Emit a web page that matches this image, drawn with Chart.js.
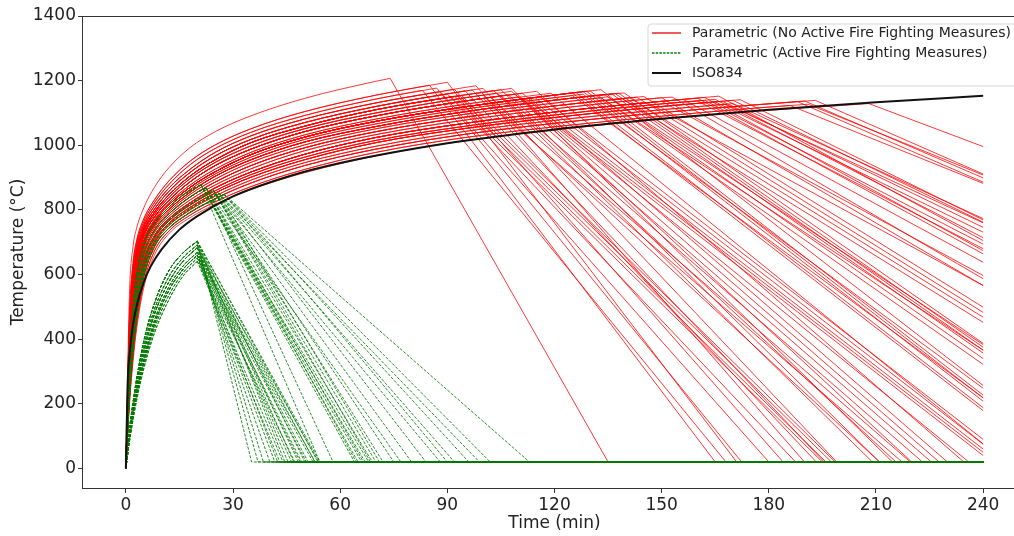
<!DOCTYPE html>
<html>
<head>
<meta charset="utf-8">
<script src="https://cdn.jsdelivr.net/npm/chart.js@4.4.1/dist/chart.umd.min.js"></script>
<style>
html, body { margin: 0; padding: 0; background: #fff; overflow: hidden; width: 1014px; height: 536px; }
#wrap { width: 1030px; height: 536px; }
</style>
</head>
<body>
<div id="wrap"><canvas id="mycanvas" width="1030" height="536"></canvas></div>
<script>
var FONT = 'DejaVu Sans';

var xTicks = [0, 30, 60, 90, 120, 150, 180, 210, 240];
var yTicks = [0, 200, 400, 600, 800, 1000, 1200, 1400];
var floorTemp = 20;

// ISO834 standard fire curve
var isoTime = [0, 0.5, 1, 2, 3, 5, 7, 10, 15, 20, 30, 45, 60, 90, 120, 150, 180, 210, 240];
var isoTemp = [0, 261, 349, 445, 502, 576, 626, 678, 739, 781, 842, 902, 945, 1006, 1049, 1082, 1110, 1133, 1153];

// heating branches of the parametric curves (no active measures), read at heatTime
var heatTime = [0, 1, 2, 3, 5, 8, 12, 18, 25, 35, 50, 70, 95, 125, 150, 175, 200];
var redHeat = [
  [0, 538, 686, 743, 806, 870, 930, 993, 1042, 1091, 1145, 1198],
  [0, 469, 635, 704, 772, 831, 889, 951, 1001, 1051, 1104, 1155],
  [0, 430, 603, 683, 754, 812, 867, 926, 978, 1029, 1081, 1131, 1179],
  [0, 393, 568, 655, 735, 793, 846, 905, 955, 1008, 1059, 1110, 1156],
  [0, 363, 538, 631, 719, 778, 829, 887, 937, 988, 1042, 1091, 1137],
  [0, 336, 507, 608, 701, 764, 815, 870, 918, 971, 1025, 1074, 1119, 1162],
  [0, 313, 483, 583, 687, 752, 801, 855, 904, 955, 1010, 1058, 1104, 1146],
  [0, 288, 454, 557, 665, 737, 787, 840, 886, 937, 992, 1042, 1087, 1128],
  [0, 262, 421, 523, 642, 720, 772, 822, 868, 917, 972, 1024, 1068, 1109, 1136],
  [0, 242, 393, 495, 619, 703, 758, 808, 852, 901, 955, 1008, 1052, 1092, 1120],
  [0, 220, 363, 465, 592, 686, 743, 792, 835, 883, 937, 988, 1034, 1074, 1101, 1124],
  [0, 197, 330, 430, 559, 660, 726, 776, 817, 863, 915, 967, 1014, 1053, 1081, 1104, 1123],
  [0, 450, 619, 694, 763, 822, 878, 940, 990, 1040, 1092, 1143],
  [0, 411, 585, 669, 745, 802, 857, 916, 967, 1018, 1070, 1120, 1168],
  [0, 379, 554, 645, 728, 786, 838, 897, 947, 998, 1051, 1100, 1147],
  [0, 346, 520, 617, 708, 770, 821, 877, 926, 978, 1032, 1081, 1127],
  [0, 325, 495, 596, 694, 758, 808, 863, 911, 963, 1018, 1066, 1112, 1154],
  [0, 302, 469, 570, 677, 745, 794, 848, 895, 947, 1001, 1051, 1096, 1137],
  [0, 274, 438, 541, 654, 730, 780, 831, 877, 927, 983, 1033, 1078, 1119, 1147],
  [0, 250, 406, 508, 630, 711, 765, 815, 859, 909, 963, 1015, 1059, 1100, 1128],
  [0, 230, 378, 481, 606, 694, 751, 800, 843, 892, 946, 997, 1043, 1083, 1110, 1133],
  [0, 207, 346, 446, 574, 673, 734, 784, 825, 872, 925, 978, 1024, 1063, 1090, 1114]
];

// each red curve: heating branch, peak, end of the cooling branch
var redFam = [0, 1, 1, 2, 2, 2, 3, 3, 3, 3, 3, 3, 3, 4, 4, 4, 4, 4, 4, 4,
  5, 5, 5, 5, 5, 5, 5, 5, 5, 5, 5, 6, 6, 6, 6, 6, 6, 7, 7, 7, 7,
  8, 8, 8, 8, 8, 8, 9, 9, 9, 9, 10, 10, 10, 11,
  12, 12, 13, 13, 13, 13, 14, 14, 14, 15, 15, 16, 16, 17, 17, 18, 18, 19, 19, 19, 20, 20, 21, 21];
var redPeakT = [74, 85, 90, 88, 92, 98, 91, 92, 93, 94, 103, 105, 108, 100, 102, 105, 107, 109, 111, 115,
  111, 112, 113, 114.5, 116, 125, 126, 128, 129, 130, 133, 132, 134, 136, 137, 138, 139.5, 139, 141, 143, 145,
  146, 150, 156, 160, 162, 166, 165, 167, 170, 172, 188, 190, 193, 208,
  83, 87, 90, 95, 97, 100, 100, 104, 108, 110, 119, 125, 128, 133, 135, 150, 153, 160, 162, 165, 168, 170, 186, 191];
var redPeakV = [1207, 1186, 1195, 1166, 1173, 1184, 1150, 1152, 1153, 1154, 1169, 1172, 1176, 1145, 1148, 1153, 1156, 1158, 1161, 1167,
  1143, 1144, 1146, 1148, 1150, 1162, 1163, 1166, 1167, 1168, 1172, 1155, 1157, 1159, 1160, 1161, 1162, 1144, 1147, 1149, 1151,
  1132, 1136, 1142, 1146, 1148, 1152, 1134, 1136, 1139, 1141, 1135, 1137, 1139, 1129,
  1170, 1177, 1159, 1168, 1171, 1176, 1155, 1161, 1167, 1150, 1161, 1154, 1158, 1147, 1150, 1147, 1149, 1137, 1139, 1142, 1127, 1129, 1123, 1127];
var redEndT = [135, 165, 171, 180, 184, 190, 195, 196, 197.5, 198.6, 209, 211, 214.6, 217.3, 219.6, 223, 225.5, 227.7, 230, 234.6,
  240, 240, 240, 240, 240, 240, 240, 240, 240, 240, 240, 240, 240, 240, 240, 240, 240, 240, 240, 240, 240,
  240, 240, 240, 240, 240, 240, 240, 240, 240, 240, 240, 240, 240, 240,
  168, 172.4, 187.5, 193.3, 195.5, 199, 211, 215.6, 220, 236, 240, 240, 240, 240, 240, 240, 240, 240, 240, 240, 240, 240, 240, 240];
var redEndV = [20, 20, 20, 20, 20, 20, 20, 20, 20, 20, 20, 20, 20, 20, 20, 20, 20, 20, 20, 20,
  40, 50, 60, 75, 90, 179, 188, 208, 218, 227, 257, 322, 340, 357, 366, 375, 387, 452, 468, 483, 499,
  566, 597, 638, 664, 674, 705, 731, 746, 762, 769, 886, 899, 911, 996,
  20, 20, 20, 20, 20, 20, 20, 20, 20, 20, 76, 219, 248, 366, 383, 566, 587, 680, 694, 714, 760, 773, 882, 908];

// heating branches with active fire fighting measures
var greenTime = [0, 1, 2, 3, 5, 8, 12, 16, 20, 24];
var greenHeat = [
  [0, 120, 203, 276, 393, 511, 611, 667, 703],
  [0, 100, 181, 248, 358, 477, 576, 641, 683],
  [0, 90, 165, 228, 330, 446, 550, 616, 660],
  [0, 82, 150, 210, 308, 419, 521, 595, 641],
  [0, 325, 495, 596, 694, 758, 808, 846, 872],
  [0, 255, 411, 513, 635, 715, 767, 802, 831, 857],
  [0, 220, 363, 465, 592, 686, 743, 778, 806, 828],
  [0, 107, 190, 260, 374, 492, 592, 652, 692],
  [0, 95, 172, 236, 341, 458, 561, 626, 669],
  [0, 86, 158, 220, 319, 433, 535, 605, 651],
  [0, 288, 454, 557, 665, 737, 787, 824, 854],
  [0, 235, 383, 486, 611, 698, 754, 788, 817, 841]
];
var greenFam = [0, 0, 0, 0, 0, 1, 1, 1, 1, 1, 2, 2, 2, 2, 2, 3, 3, 7, 7, 7, 8, 8, 8, 9, 9,
  4, 4, 4, 4, 4, 4, 5, 5, 5, 5, 5, 5, 6, 6, 6, 6, 10, 10, 10, 10, 10, 11, 11, 11, 11];
var greenPeakT = [20, 20, 20, 20, 20, 20, 20, 20, 20, 20, 20, 20, 20, 20, 20, 20, 20, 20, 20, 20, 20, 20, 20, 20, 20,
  21, 21, 21, 21, 21, 21, 24.5, 24.5, 24.5, 24.5, 24.5, 24.5, 27.5, 27.5, 27.5, 27.5, 22.5, 22.5, 22.5, 22.5, 22.5, 26, 26, 26, 26];
var greenPeakV = [703, 703, 703, 703, 703, 683, 683, 683, 683, 683, 660, 660, 660, 660, 660, 641, 641, 692, 692, 692, 669, 669, 669, 651, 651,
  878, 878, 878, 878, 878, 878, 860, 860, 860, 860, 860, 860, 848, 848, 848, 848, 868, 868, 868, 868, 868, 852, 852, 852, 852];
var greenEndT = [35.2, 44.5, 50.1, 53.8, 54.3, 38.5, 45.4, 48.3, 51, 54, 40.3, 41.7, 46.4, 49.2, 52.4, 43.1, 47.3, 37, 47, 52.9, 42.5, 50.5, 53, 44, 48.8,
  54.3, 64, 65, 66, 67, 68, 68.5, 70, 72, 75, 80, 88, 90, 96, 102, 113, 58, 64.5, 66.5, 69, 77, 71, 84, 92, 99];

var legendText = ['Parametric (No Active Fire Fighting Measures)', 'Parametric (Active Fire Fighting Measures)', 'ISO834'];

var redCol = 'rgba(255,0,0,0.78)';
var greenCol = 'rgba(0,122,0,0.95)';

// points of a heating branch up to its peak
function heatPoints(times, temps, tp, tv) {
  var pts = [];
  for (var i = 0; i < temps.length; i++) {
    if (times[i] < tp) pts.push({x: times[i], y: temps[i]});
  }
  pts.push({x: tp, y: tv});
  return pts;
}

function coolPoints(tp, tv, te, ve) {
  var pts = [{x: tp, y: tv}, {x: te, y: ve}];
  if (te < 240) pts.push({x: 240, y: ve});
  return pts;
}

var datasets = [];
datasets.push({
  label: 'ISO834',
  data: isoTime.map(function(t, i) { return {x: t, y: isoTemp[i]}; }),
  borderColor: '#111', borderWidth: 2, cubicInterpolationMode: 'monotone', order: 0
});

for (var g = 0; g < greenFam.length; g++) {
  datasets.push({
    data: heatPoints(greenTime, greenHeat[greenFam[g]], greenPeakT[g], greenPeakV[g]),
    borderColor: greenCol, borderWidth: 0.9, borderDash: [3, 1.5], cubicInterpolationMode: 'monotone', order: 1
  });
  datasets.push({
    data: coolPoints(greenPeakT[g], greenPeakV[g], greenEndT[g], floorTemp),
    borderColor: greenCol, borderWidth: 0.9, borderDash: [3, 1.5], tension: 0, order: 1
  });
}

for (var r = 0; r < redFam.length; r++) {
  datasets.push({
    data: heatPoints(heatTime, redHeat[redFam[r]], redPeakT[r], redPeakV[r]),
    borderColor: redCol, borderWidth: 1, cubicInterpolationMode: 'monotone', order: 2
  });
  datasets.push({
    data: coolPoints(redPeakT[r], redPeakV[r], redEndT[r], redEndV[r]),
    borderColor: redCol, borderWidth: 1, tension: 0, order: 2
  });
}

// spines on all four sides
var framePlugin = {
  id: 'frame',
  afterDraw: function(chart) {
    var a = chart.chartArea, c = chart.ctx;
    c.save();
    c.strokeStyle = '#333';
    c.lineWidth = 1;
    c.strokeRect(Math.round(a.left) - 0.5, Math.round(a.top) + 0.5, Math.round(a.right - a.left) + 1, Math.round(a.bottom - a.top));
    c.restore();
  }
};

// legend box in the upper right of the plot
var boxLegend = {
  id: 'boxLegend',
  afterDraw: function(chart) {
    var c = chart.ctx;
    var bx = 648, by = 24, bw = 371, bh = 62, rad = 3;
    c.save();
    c.beginPath();
    c.moveTo(bx + rad, by);
    c.arcTo(bx + bw, by, bx + bw, by + bh, rad);
    c.arcTo(bx + bw, by + bh, bx, by + bh, rad);
    c.arcTo(bx, by + bh, bx, by, rad);
    c.arcTo(bx, by, bx + bw, by, rad);
    c.closePath();
    c.fillStyle = 'rgba(255,255,255,0.85)';
    c.fill();
    c.strokeStyle = '#d6d6d6';
    c.lineWidth = 1;
    c.stroke();

    var rows = [33, 53, 73];
    var cols = ['rgb(230,20,20)', 'rgb(0,128,0)', '#111'];
    var widths = [1.4, 1.4, 2];
    var dashes = [[], [2.5, 1.2], []];
    for (var i = 0; i < 3; i++) {
      c.save();
      c.beginPath();
      c.setLineDash(dashes[i]);
      c.strokeStyle = cols[i];
      c.lineWidth = widths[i];
      c.moveTo(652, rows[i]);
      c.lineTo(681, rows[i]);
      c.stroke();
      c.restore();
    }
    c.fillStyle = '#222';
    c.font = '14px "' + FONT + '"';
    c.textBaseline = 'middle';
    c.textAlign = 'left';
    for (var j = 0; j < 3; j++) c.fillText(legendText[j], 692, rows[j] + 0.5);
    c.restore();
  }
};

var ctx = document.getElementById('mycanvas');
var chart = new Chart(ctx, {
  type: 'line',
  data: { datasets: datasets },
  options: {
    responsive: false,
    animation: false,
    devicePixelRatio: 1,
    events: [],
    layout: { padding: { top: 16, right: 4, left: 0, bottom: 0 } },
    elements: { point: { radius: 0 }, line: { fill: false } },
    plugins: { legend: { display: false }, tooltip: { enabled: false } },
    scales: {
      x: {
        type: 'linear', min: -12, max: 252,
        afterFit: function(s) { s.height = 48; },
        afterBuildTicks: function(s) { s.ticks = xTicks.map(function(v) { return {value: v}; }); },
        grid: { drawOnChartArea: false, tickLength: 5, color: '#333' },
        border: { display: false },
        ticks: { font: { family: FONT, size: 17 }, color: '#222', padding: 2, maxRotation: 0, autoSkip: false,
          callback: function(v) { return String(v); } },
        title: { display: true, text: 'Time (min)', font: { family: FONT, size: 17 }, color: '#222', padding: { top: 0, bottom: 2 } }
      },
      y: {
        type: 'linear', min: -60.5, max: 1400,
        afterFit: function(s) { s.width = 83; },
        afterBuildTicks: function(s) { s.ticks = yTicks.map(function(v) { return {value: v}; }); },
        grid: { drawOnChartArea: false, tickLength: 5, color: '#333' },
        border: { display: false },
        ticks: { font: { family: FONT, size: 17 }, color: '#222', padding: 2, autoSkip: false,
          callback: function(v) { return String(v); } },
        title: { display: true, text: 'Temperature (°C)', font: { family: FONT, size: 17 }, color: '#222', padding: { top: 8, bottom: 0 } }
      }
    }
  },
  plugins: [framePlugin, boxLegend]
});
</script>
</body>
</html>
